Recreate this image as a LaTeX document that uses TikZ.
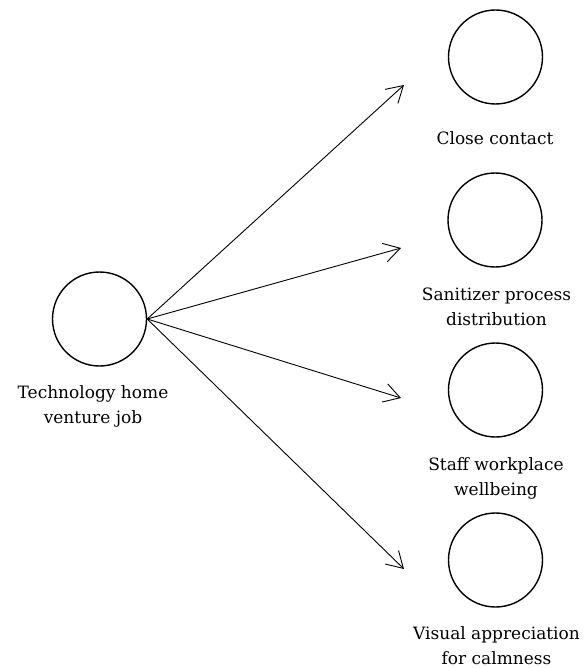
\documentclass[tikz,border=0pt]{standalone}
\usepackage{fontspec}
\setmainfont{DejaVu Serif}
\usetikzlibrary{arrows.meta}
\begin{document}
\begin{tikzpicture}[x=1pt,y=-1pt,
  circ/.style={circle,draw,line width=1.4pt,minimum size=94pt,inner sep=0pt},
  lbl/.style={align=center,font=\fontsize{17}{25}\selectfont,inner sep=0pt},
  arr/.style={line width=0.9pt,-{Straight Barb[length=16pt,width=19pt,line width=0.9pt]}}]
\useasboundingbox (0,0) rectangle (586,668);
\node[circ] (src) at (99.5,319) {};
\node[lbl] (srcl) at (93,406.5) {Technology home\\venture job};
\node[circ] (c1) at (495.5,57) {};
\node[lbl] (l1) at (495,138) {Close contact};
\node[circ] (c2) at (495,220) {};
\node[lbl] (l2) at (496.5,306.5) {Sanitizer process\\distribution};
\node[circ] (c3) at (495.5,390) {};
\node[lbl] (l3) at (496,478) {Staff workplace\\wellbeing};
\node[circ] (c4) at (495.5,560) {};
\node[lbl] (l4) at (496.5,646) {Visual appreciation\\for calmness};
\coordinate (e1) at (404,85);
\coordinate (e2) at (401,248);
\coordinate (e3) at (401,398);
\coordinate (e4) at (404,569);
\foreach \e in {e1,e2,e3,e4}{\draw[arr] (src.east) -- (\e);}
\end{tikzpicture}
\end{document}
